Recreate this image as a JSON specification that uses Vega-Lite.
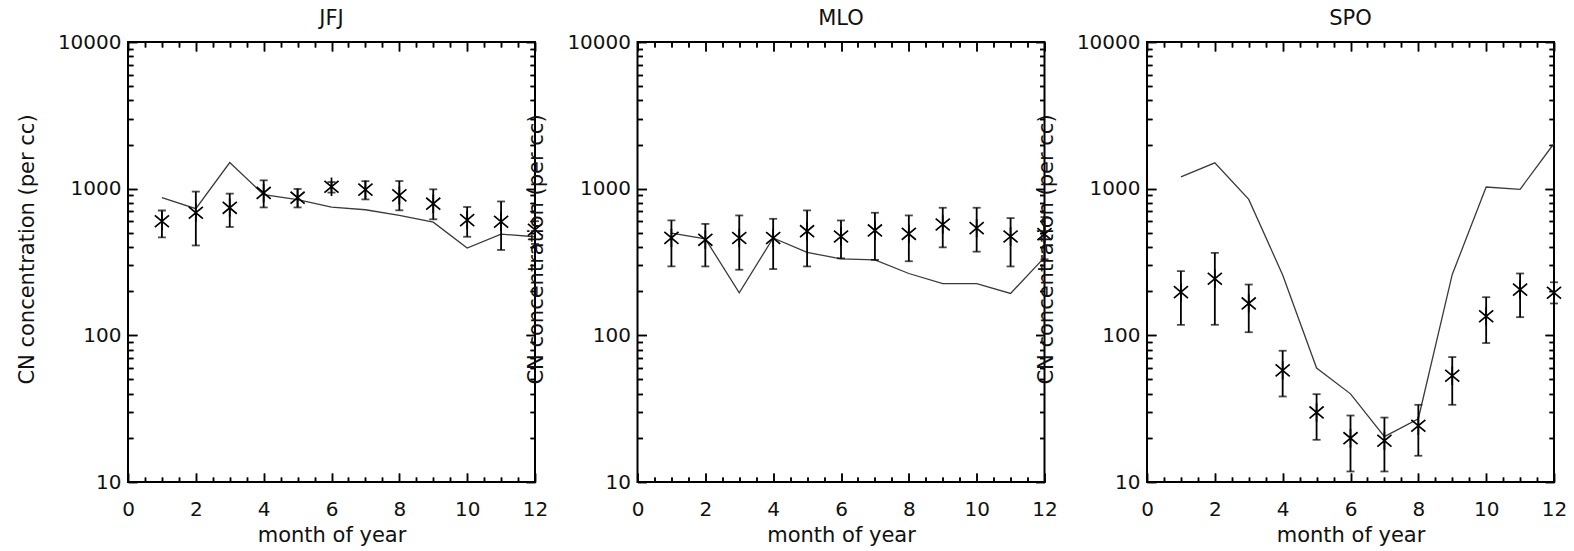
{
  "$schema": "https://vega.github.io/schema/vega-lite/v6.json",
  "padding": {"left": 14, "top": 7, "right": 4, "bottom": 2},
  "config": {
    "view": {"stroke": "black", "strokeWidth": 2},
    "font": "DejaVu Sans",
    "title": {"font": "DejaVu Sans", "fontSize": 21, "fontWeight": "normal", "color": "#111", "offset": 3, "baseline": "bottom"},
    "axis": {
      "domain": false, "ticks": false, "tickSize": 0, "grid": true,
      "gridColor": "black", "gridWidth": 1.5, "gridOpacity": 1, "gridCap": "butt",
      "labelFont": "DejaVu Sans", "labelFontSize": 20, "labelColor": "#111",
      "titleFont": "DejaVu Sans", "titleFontSize": 21, "titleFontWeight": "normal", "titleColor": "#111",
      "labelOverlap": false, "labelFlush": false
    }
  },
  "datasets": {
    "cn": [
      {"station": "JFJ", "month": 1, "obs": 600, "lo": 465, "hi": 710, "model": 868},
      {"station": "JFJ", "month": 2, "obs": 685, "lo": 410, "hi": 955, "model": 730},
      {"station": "JFJ", "month": 3, "obs": 740, "lo": 548, "hi": 925, "model": 1507},
      {"station": "JFJ", "month": 4, "obs": 935, "lo": 745, "hi": 1140, "model": 910},
      {"station": "JFJ", "month": 5, "obs": 868, "lo": 745, "hi": 995, "model": 841},
      {"station": "JFJ", "month": 6, "obs": 1030, "lo": 940, "hi": 1110, "model": 749},
      {"station": "JFJ", "month": 7, "obs": 985, "lo": 845, "hi": 1125, "model": 718},
      {"station": "JFJ", "month": 8, "obs": 900, "lo": 712, "hi": 1128, "model": 657},
      {"station": "JFJ", "month": 9, "obs": 790, "lo": 618, "hi": 990, "model": 591},
      {"station": "JFJ", "month": 10, "obs": 610, "lo": 470, "hi": 750, "model": 394},
      {"station": "JFJ", "month": 11, "obs": 595, "lo": 382, "hi": 818, "model": 490},
      {"station": "JFJ", "month": 12, "obs": 525, "lo": 420, "hi": 600, "model": 470},
      {"station": "MLO", "month": 1, "obs": 462, "lo": 295, "hi": 607, "model": 497},
      {"station": "MLO", "month": 2, "obs": 448, "lo": 295, "hi": 575, "model": 455},
      {"station": "MLO", "month": 3, "obs": 461, "lo": 280, "hi": 657, "model": 195},
      {"station": "MLO", "month": 4, "obs": 461, "lo": 283, "hi": 623, "model": 461},
      {"station": "MLO", "month": 5, "obs": 513, "lo": 295, "hi": 711, "model": 368},
      {"station": "MLO", "month": 6, "obs": 472, "lo": 335, "hi": 607, "model": 332},
      {"station": "MLO", "month": 7, "obs": 519, "lo": 327, "hi": 685, "model": 327},
      {"station": "MLO", "month": 8, "obs": 492, "lo": 320, "hi": 657, "model": 264},
      {"station": "MLO", "month": 9, "obs": 570, "lo": 398, "hi": 741, "model": 225},
      {"station": "MLO", "month": 10, "obs": 538, "lo": 372, "hi": 741, "model": 225},
      {"station": "MLO", "month": 11, "obs": 472, "lo": 295, "hi": 630, "model": 193},
      {"station": "MLO", "month": 12, "obs": 490, "lo": 330, "hi": 640, "model": 340},
      {"station": "SPO", "month": 1, "obs": 197, "lo": 118, "hi": 274, "model": 1202},
      {"station": "SPO", "month": 2, "obs": 243, "lo": 118, "hi": 365, "model": 1500},
      {"station": "SPO", "month": 3, "obs": 165, "lo": 105, "hi": 222, "model": 845},
      {"station": "SPO", "month": 4, "obs": 57.7, "lo": 38.3, "hi": 78.5, "model": 258},
      {"station": "SPO", "month": 5, "obs": 29.8, "lo": 19.4, "hi": 39.7, "model": 59.8},
      {"station": "SPO", "month": 6, "obs": 19.9, "lo": 11.8, "hi": 28.4, "model": 39.9},
      {"station": "SPO", "month": 7, "obs": 19.1, "lo": 11.8, "hi": 27.5, "model": 20.4},
      {"station": "SPO", "month": 8, "obs": 24.2, "lo": 15.1, "hi": 33.6, "model": 27},
      {"station": "SPO", "month": 9, "obs": 53, "lo": 33.6, "hi": 71.1, "model": 260},
      {"station": "SPO", "month": 10, "obs": 135, "lo": 88.6, "hi": 182, "model": 1026},
      {"station": "SPO", "month": 11, "obs": 205, "lo": 133, "hi": 264, "model": 990},
      {"station": "SPO", "month": 12, "obs": 195, "lo": 165, "hi": 230, "model": 2032}
    ]
  },
  "data": {"name": "cn"},
  "spacing": 102.5,
  "bounds": "flush",
  "hconcat": [
    {
      "width": 407, "height": 440,
      "title": {"text": "JFJ"},
      "transform": [{"filter": "datum.station === 'JFJ'"}],
      "resolve": {"axis": {"x": "independent", "y": "independent"}},
      "layer": [
        {"mark": {"type": "line", "color": "#3a3a3a", "strokeWidth": 1.3},
         "encoding": {
           "x": {"field": "month", "type": "quantitative", "scale": {"domain": [0, 12], "nice": false, "zero": false},
             "axis": {"orient": "bottom", "grid": true, "values": [0,0.5,1,1.5,2,2.5,3,3.5,4,4.5,5,5.5,6,6.5,7,7.5,8,8.5,9,9.5,10,10.5,11,11.5,12],
               "labelExpr": "datum.value % 2 === 0 ? datum.value + '' : ''", "labelPadding": 17,
               "title": "month of year", "titleY": 59, "titleBaseline": "alphabetic",
               "gridDash": {"condition": {"test": "datum.value % 2 === 0", "value": [9, 422, 9, 2000]}, "value": [5, 430, 5, 2000]}}},
           "y": {"field": "model", "type": "quantitative", "scale": {"type": "log", "domain": [10, 10000], "nice": false},
             "axis": {"orient": "left", "grid": true, "values": [10,20,30,40,50,60,70,80,90,100,200,300,400,500,600,700,800,900,1000,2000,3000,4000,5000,6000,7000,8000,9000,10000],
               "labelExpr": "(datum.value === 10 || datum.value === 100 || datum.value === 1000 || datum.value === 10000) ? datum.value + '' : ''",
               "labelPadding": 7, "title": "CN concentration (per cc)", "titleX": -101, "titleY": 207, "titleBaseline": "middle",
               "gridDash": {"condition": {"test": "datum.value === 10 || datum.value === 100 || datum.value === 1000 || datum.value === 10000", "value": [9, 389, 9, 2000]}, "value": [5, 397, 5, 2000]}}}}},
        {"mark": {"type": "errorbar", "ticks": true, "size": 8, "thickness": 1.8, "color": "black"},
         "encoding": {
           "x": {"field": "month", "type": "quantitative", "scale": {"domain": [0, 12], "nice": false, "zero": false},
             "axis": {"orient": "top", "grid": true, "values": [0,0.5,1,1.5,2,2.5,3,3.5,4,4.5,5,5.5,6,6.5,7,7.5,8,8.5,9,9.5,10,10.5,11,11.5,12],
               "labels": false, "title": null,
               "gridDash": {"condition": {"test": "datum.value % 2 === 0", "value": [9, 422, 9, 2000]}, "value": [5, 430, 5, 2000]}}},
           "y": {"field": "lo", "type": "quantitative", "scale": {"type": "log", "domain": [10, 10000], "nice": false},
             "axis": {"orient": "right", "grid": true, "values": [10,20,30,40,50,60,70,80,90,100,200,300,400,500,600,700,800,900,1000,2000,3000,4000,5000,6000,7000,8000,9000,10000],
               "labels": false, "title": null,
               "gridDash": {"condition": {"test": "datum.value === 10 || datum.value === 100 || datum.value === 1000 || datum.value === 10000", "value": [9, 389, 9, 2000]}, "value": [5, 397, 5, 2000]}}},
           "y2": {"field": "hi"}}},
        {"mark": {"type": "point", "shape": "M0,-1L0,1M-0.766,-0.643L0.766,0.643M-0.766,0.643L0.766,-0.643", "size": 340, "filled": false, "stroke": "black", "strokeWidth": 1.7, "opacity": 1},
         "encoding": {
           "x": {"field": "month", "type": "quantitative", "scale": {"domain": [0, 12], "nice": false, "zero": false}, "axis": null},
           "y": {"field": "obs", "type": "quantitative", "scale": {"type": "log", "domain": [10, 10000], "nice": false}, "axis": null}}}
      ]
    },
    {
      "width": 407, "height": 440,
      "title": {"text": "MLO"},
      "transform": [{"filter": "datum.station === 'MLO'"}],
      "resolve": {"axis": {"x": "independent", "y": "independent"}},
      "layer": [
        {"mark": {"type": "line", "color": "#3a3a3a", "strokeWidth": 1.3},
         "encoding": {
           "x": {"field": "month", "type": "quantitative", "scale": {"domain": [0, 12], "nice": false, "zero": false},
             "axis": {"orient": "bottom", "grid": true, "values": [0,0.5,1,1.5,2,2.5,3,3.5,4,4.5,5,5.5,6,6.5,7,7.5,8,8.5,9,9.5,10,10.5,11,11.5,12],
               "labelExpr": "datum.value % 2 === 0 ? datum.value + '' : ''", "labelPadding": 17,
               "title": "month of year", "titleY": 59, "titleBaseline": "alphabetic",
               "gridDash": {"condition": {"test": "datum.value % 2 === 0", "value": [9, 422, 9, 2000]}, "value": [5, 430, 5, 2000]}}},
           "y": {"field": "model", "type": "quantitative", "scale": {"type": "log", "domain": [10, 10000], "nice": false},
             "axis": {"orient": "left", "grid": true, "values": [10,20,30,40,50,60,70,80,90,100,200,300,400,500,600,700,800,900,1000,2000,3000,4000,5000,6000,7000,8000,9000,10000],
               "labelExpr": "(datum.value === 10 || datum.value === 100 || datum.value === 1000 || datum.value === 10000) ? datum.value + '' : ''",
               "labelPadding": 7, "title": "CN concentration (per cc)", "titleX": -101, "titleY": 207, "titleBaseline": "middle",
               "gridDash": {"condition": {"test": "datum.value === 10 || datum.value === 100 || datum.value === 1000 || datum.value === 10000", "value": [9, 389, 9, 2000]}, "value": [5, 397, 5, 2000]}}}}},
        {"mark": {"type": "errorbar", "ticks": true, "size": 8, "thickness": 1.8, "color": "black"},
         "encoding": {
           "x": {"field": "month", "type": "quantitative", "scale": {"domain": [0, 12], "nice": false, "zero": false},
             "axis": {"orient": "top", "grid": true, "values": [0,0.5,1,1.5,2,2.5,3,3.5,4,4.5,5,5.5,6,6.5,7,7.5,8,8.5,9,9.5,10,10.5,11,11.5,12],
               "labels": false, "title": null,
               "gridDash": {"condition": {"test": "datum.value % 2 === 0", "value": [9, 422, 9, 2000]}, "value": [5, 430, 5, 2000]}}},
           "y": {"field": "lo", "type": "quantitative", "scale": {"type": "log", "domain": [10, 10000], "nice": false},
             "axis": {"orient": "right", "grid": true, "values": [10,20,30,40,50,60,70,80,90,100,200,300,400,500,600,700,800,900,1000,2000,3000,4000,5000,6000,7000,8000,9000,10000],
               "labels": false, "title": null,
               "gridDash": {"condition": {"test": "datum.value === 10 || datum.value === 100 || datum.value === 1000 || datum.value === 10000", "value": [9, 389, 9, 2000]}, "value": [5, 397, 5, 2000]}}},
           "y2": {"field": "hi"}}},
        {"mark": {"type": "point", "shape": "M0,-1L0,1M-0.766,-0.643L0.766,0.643M-0.766,0.643L0.766,-0.643", "size": 340, "filled": false, "stroke": "black", "strokeWidth": 1.7, "opacity": 1},
         "encoding": {
           "x": {"field": "month", "type": "quantitative", "scale": {"domain": [0, 12], "nice": false, "zero": false}, "axis": null},
           "y": {"field": "obs", "type": "quantitative", "scale": {"type": "log", "domain": [10, 10000], "nice": false}, "axis": null}}}
      ]
    },
    {
      "width": 407, "height": 440,
      "title": {"text": "SPO"},
      "transform": [{"filter": "datum.station === 'SPO'"}],
      "resolve": {"axis": {"x": "independent", "y": "independent"}},
      "layer": [
        {"mark": {"type": "line", "color": "#3a3a3a", "strokeWidth": 1.3},
         "encoding": {
           "x": {"field": "month", "type": "quantitative", "scale": {"domain": [0, 12], "nice": false, "zero": false},
             "axis": {"orient": "bottom", "grid": true, "values": [0,0.5,1,1.5,2,2.5,3,3.5,4,4.5,5,5.5,6,6.5,7,7.5,8,8.5,9,9.5,10,10.5,11,11.5,12],
               "labelExpr": "datum.value % 2 === 0 ? datum.value + '' : ''", "labelPadding": 17,
               "title": "month of year", "titleY": 59, "titleBaseline": "alphabetic",
               "gridDash": {"condition": {"test": "datum.value % 2 === 0", "value": [9, 422, 9, 2000]}, "value": [5, 430, 5, 2000]}}},
           "y": {"field": "model", "type": "quantitative", "scale": {"type": "log", "domain": [10, 10000], "nice": false},
             "axis": {"orient": "left", "grid": true, "values": [10,20,30,40,50,60,70,80,90,100,200,300,400,500,600,700,800,900,1000,2000,3000,4000,5000,6000,7000,8000,9000,10000],
               "labelExpr": "(datum.value === 10 || datum.value === 100 || datum.value === 1000 || datum.value === 10000) ? datum.value + '' : ''",
               "labelPadding": 7, "title": "CN concentration (per cc)", "titleX": -101, "titleY": 207, "titleBaseline": "middle",
               "gridDash": {"condition": {"test": "datum.value === 10 || datum.value === 100 || datum.value === 1000 || datum.value === 10000", "value": [9, 389, 9, 2000]}, "value": [5, 397, 5, 2000]}}}}},
        {"mark": {"type": "errorbar", "ticks": true, "size": 8, "thickness": 1.8, "color": "black"},
         "encoding": {
           "x": {"field": "month", "type": "quantitative", "scale": {"domain": [0, 12], "nice": false, "zero": false},
             "axis": {"orient": "top", "grid": true, "values": [0,0.5,1,1.5,2,2.5,3,3.5,4,4.5,5,5.5,6,6.5,7,7.5,8,8.5,9,9.5,10,10.5,11,11.5,12],
               "labels": false, "title": null,
               "gridDash": {"condition": {"test": "datum.value % 2 === 0", "value": [9, 422, 9, 2000]}, "value": [5, 430, 5, 2000]}}},
           "y": {"field": "lo", "type": "quantitative", "scale": {"type": "log", "domain": [10, 10000], "nice": false},
             "axis": {"orient": "right", "grid": true, "values": [10,20,30,40,50,60,70,80,90,100,200,300,400,500,600,700,800,900,1000,2000,3000,4000,5000,6000,7000,8000,9000,10000],
               "labels": false, "title": null,
               "gridDash": {"condition": {"test": "datum.value === 10 || datum.value === 100 || datum.value === 1000 || datum.value === 10000", "value": [9, 389, 9, 2000]}, "value": [5, 397, 5, 2000]}}},
           "y2": {"field": "hi"}}},
        {"mark": {"type": "point", "shape": "M0,-1L0,1M-0.766,-0.643L0.766,0.643M-0.766,0.643L0.766,-0.643", "size": 340, "filled": false, "stroke": "black", "strokeWidth": 1.7, "opacity": 1},
         "encoding": {
           "x": {"field": "month", "type": "quantitative", "scale": {"domain": [0, 12], "nice": false, "zero": false}, "axis": null},
           "y": {"field": "obs", "type": "quantitative", "scale": {"type": "log", "domain": [10, 10000], "nice": false}, "axis": null}}}
      ]
    }
  ]
}
